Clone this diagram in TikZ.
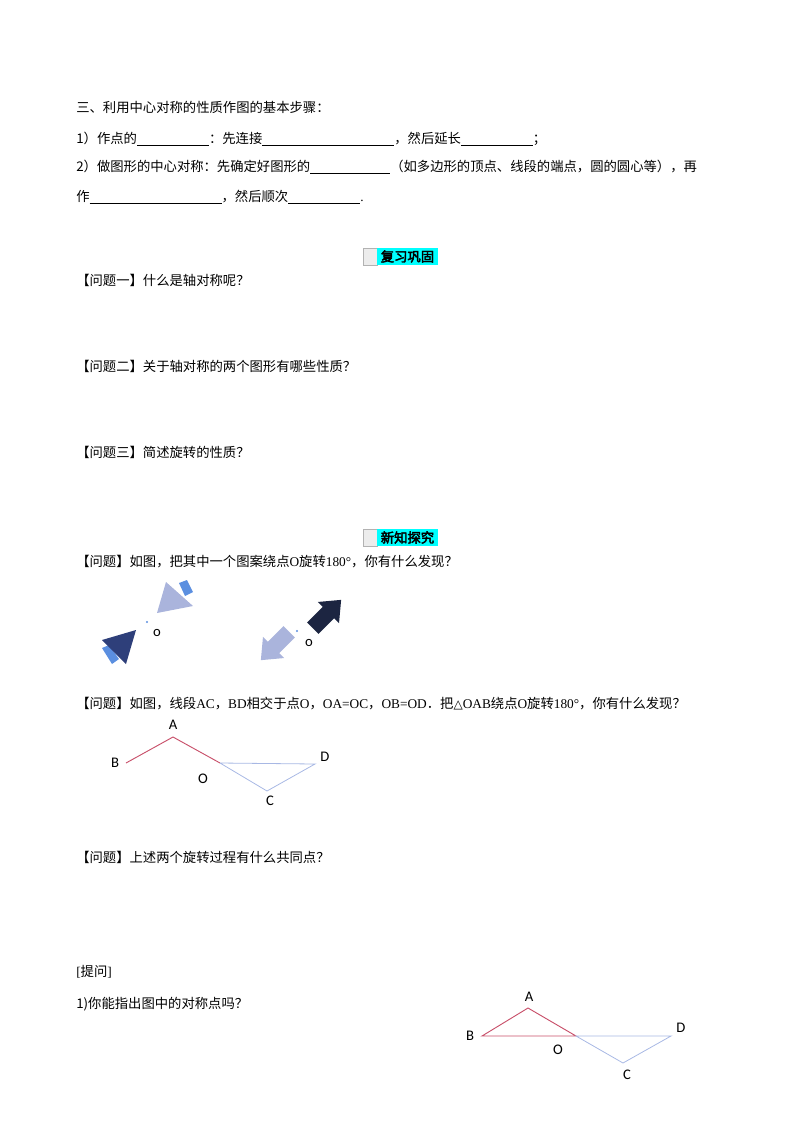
\documentclass[tikz,border=0pt]{standalone}
\usepackage{fontspec}
\setmainfont{Noto Sans CJK SC}
\newfontfamily\lat{Liberation Serif}
\newfontfamily\dvs{DejaVu Sans}
\newfontfamily\hb[FakeBold=3]{Noto Sans CJK SC}
\newfontfamily\lab{Carlito}
\definecolor{redl}{HTML}{C8506A}
\definecolor{bluel}{HTML}{A8B8E4}
\definecolor{lightarr}{HTML}{AAB4DC}
\definecolor{strip}{HTML}{5B8FE0}
\definecolor{darktri}{HTML}{2E3F7A}
\definecolor{darkarr}{HTML}{1C2541}
\definecolor{hcyan}{HTML}{00FFFF}
\newcommand{\ul}[1]{\rule[-2pt]{#1}{0.4pt}}
\tikzset{
  txt/.style={anchor=base west,inner sep=0pt,font=\fontsize{10pt}{12pt}\selectfont},
  lbl/.style={inner sep=0pt,font=\lab\fontsize{11pt}{13pt}\selectfont},
  hd/.style={inner sep=0pt,font=\hb\fontsize{10pt}{12pt}\selectfont},
  rl/.style={draw=redl,line width=0.7pt},
  bl/.style={draw=bluel,line width=0.6pt}
}
\begin{document}
\begin{tikzpicture}[x=0.75pt,y=-0.75pt]
\useasboundingbox (0,0) rectangle (800,1132);
% text lines
\node[txt] (t1) at (76,112) {三、利用中心对称的性质作图的基本步骤：};
\node[txt] (t2) at (76,143) {1）作点的\ul{54pt}：先连接\ul{99pt}，然后延长\ul{54pt}；};
\node[txt] (t3) at (76,171) {2）做图形的中心对称：先确定好图形的\ul{60pt}（如多边形的顶点、线段的端点，圆的圆心等），再};
\node[txt] (t4) at (76,201) {作\ul{99pt}，然后顺次\ul{54pt}{\lat .}};
% heading 1
\fill[gray!15] (363,248) rectangle (377,265);
\draw[gray!60,line width=0.3pt] (363,248) rectangle (377,265);
\fill[hcyan] (377,248) rectangle (438,265);
\node[hd] (h1) at (407.5,256.5) {复习巩固};
\node[txt] (q1) at (76,285) {【问题一】什么是轴对称呢？};
\node[txt] (q2) at (76,371) {【问题二】关于轴对称的两个图形有哪些性质？};
\node[txt] (q3) at (76,457) {【问题三】简述旋转的性质？};
% heading 2
\fill[gray!15] (363,529) rectangle (377,546);
\draw[gray!60,line width=0.3pt] (363,529) rectangle (377,546);
\fill[hcyan] (377,529) rectangle (438,546);
\node[hd] (h2) at (407.5,537.5) {新知探究};
\node[txt] (q4) at (76,566) {【问题】如图，把其中一个图案绕点{\lat O}旋转{\lat 180°}，你有什么发现？};
% figure 1: triangles
\fill[strip] (179,583) -- (187,580) -- (193,592) -- (185,596) -- cycle;
\fill[lightarr] (166,582) -- (193,606) -- (157,613) -- cycle;
\fill[strip] (102,648) -- (109,645) -- (119,659) -- (112,664) -- cycle;
\fill[darktri] (102,640) -- (136,630) -- (126,664) -- cycle;
\fill[strip] (147,622) circle (1.2);
\node[lbl] (o1) at (157,633) {o};
% arrows
\fill[darkarr,shift={(327,614)},rotate=45] (20,0) -- (2,-15) -- (2,-8) -- (-20,-8) -- (-20,8) -- (2,8) -- (2,15) -- cycle;
\fill[lightarr,shift={(275,646)},rotate=-135] (20,0) -- (2,-15) -- (2,-8) -- (-20,-8) -- (-20,8) -- (2,8) -- (2,15) -- cycle;
\fill[strip] (297,631) circle (1.2);
\node[lbl] (o2) at (309,643) {o};
\node[txt] (q5) at (76,708) {【问题】如图，线段{\lat AC}，{\lat BD}相交于点{\lat O}，{\lat OA=OC}，{\lat OB=OD}．把{\dvs\fontsize{9pt}{11pt}\selectfont △}{\lat OAB}绕点{\lat O}旋转{\lat 180°}，你有什么发现？};
% geometry 1
\coordinate (B1) at (126,763);
\coordinate (A1) at (173,737);
\coordinate (O1) at (220,763);
\coordinate (C1) at (267,791);
\coordinate (D1) at (315,764);
\draw[rl] (B1) -- (A1) -- (O1);
\draw[bl] (O1) -- (C1) -- (D1) -- (O1);
\node[lbl] (lA1) at (173,725) {A};
\node[lbl] (lB1) at (115,763) {B};
\node[lbl] (lO1) at (203,779) {O};
\node[lbl] (lC1) at (270,801) {C};
\node[lbl] (lD1) at (325,757) {D};
\node[txt] (q6) at (76,862) {【问题】上述两个旋转过程有什么共同点？};
\node[txt] (q7) at (76,976) {{\lat [}提问{\lat ]}};
\node[txt] (q8) at (76,1008) {1)你能指出图中的对称点吗？};
% geometry 2
\coordinate (B2) at (482,1036);
\coordinate (A2) at (528,1008);
\coordinate (O2) at (576,1036);
\coordinate (C2) at (623,1063);
\coordinate (D2) at (671,1036);
\draw[rl] (B2) -- (A2) -- (O2) -- cycle;
\draw[bl] (O2) -- (C2) -- (D2) -- cycle;
\node[lbl] (lA2) at (529,997) {A};
\node[lbl] (lB2) at (470,1036) {B};
\node[lbl] (lO2) at (558,1050) {O};
\node[lbl] (lC2) at (627,1075) {C};
\node[lbl] (lD2) at (681,1028) {D};
\end{tikzpicture}
\end{document}
